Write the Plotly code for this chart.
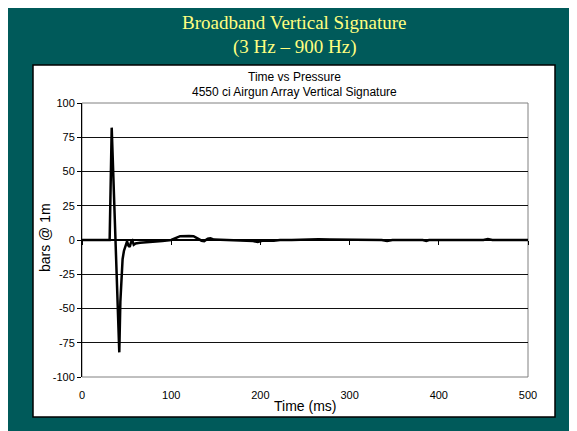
import plotly.graph_objects as go

# ---- data ----
time_ms = [0, 31, 33.3, 35, 36.6, 37.6, 39.5, 41.8, 43, 44.5,
           45.5, 47, 49, 50.5, 52, 53.5, 55, 56.5, 58, 60,
           65, 70, 80, 90, 100, 105, 110, 120, 125, 130,
           134, 137, 141, 144, 148, 155, 166, 172, 185, 192,
           197, 202, 215, 222, 235, 252, 265, 278, 288, 297,
           310, 336, 342, 348, 382, 386, 389, 450, 455, 460,
           480, 500]
pressure_bar = [0, 0, 82, 50, 25, 0, -40, -82, -45, -24,
                -14, -8, -3, -1, -4, -5, -1.5, -0.5, -3.5, -2.5,
                -2, -1.8, -1.5, -0.8, 0, 1.5, 2.8, 3, 2.8, 1,
                -0.5, -0.8, 1, 1.2, 0.3, 0.2, 0, -0.5, -0.6, -0.8,
                -1.5, -0.6, -0.5, 0, 0, 0.5, 0.5, 0.3, 0.3, 0,
                0, 0, -0.7, 0, 0, -0.7, 0, 0, 0.7, 0,
                0, 0]
x_ticks = [0, 100, 200, 300, 400, 500]
y_ticks = [-100, -75, -50, -25, 0, 25, 50, 75, 100]
y_tick_labels = ["-100", "-75", "-50", "-25", "0", "25", "50", "75", "100"]

slide_title = ["Broadband Vertical Signature", "(3 Hz – 900 Hz)"]
chart_title = ["Time vs Pressure", "4550 ci Airgun Array Vertical Signature"]
x_title = "Time (ms)"
y_title = "bars @ 1m"

# ---- layout geometry (screen pixels; page has an 8px body margin) ----
OFF = 8
SW, SH = 577, 431
W, H = SW - OFF, SH - OFF
L, R, T, B = 82, 528, 103, 377
pw, ph = R - L, B - T


def px(x):
    return (x - L) / pw


def py(y):
    return (B - y) / ph


TEAL = "#005A5A"
YELLOW = "#FFFF80"

fig = go.Figure()
fig.add_trace(go.Scatter(x=time_ms, y=pressure_bar, mode="lines",
                         line=dict(color="black", width=2.5),
                         xaxis="x", yaxis="y", showlegend=False,
                         hoverinfo="x+y"))
# helper trace so the zero-crossing axis is drawn
fig.add_trace(go.Scatter(x=[x_ticks[0], x_ticks[-1]], y=[None, None],
                         mode="lines", xaxis="x2", yaxis="y",
                         showlegend=False, hoverinfo="skip"))

fig.update_layout(
    width=W, height=H,
    margin=dict(l=L - OFF, r=SW - R, t=T - OFF, b=SH - B, pad=0),
    paper_bgcolor=TEAL, plot_bgcolor="white",
    font=dict(family="Liberation Sans, Arial, sans-serif", color="black", size=11),
    xaxis=dict(range=[x_ticks[0], x_ticks[-1]], tickvals=x_ticks,
               showgrid=False, zeroline=False, showline=False,
               ticks="", ticklabelstandoff=10,
               tickfont=dict(size=11, color="black")),
    xaxis2=dict(range=[x_ticks[0], x_ticks[-1]], tickvals=x_ticks,
                overlaying="x", anchor="free", position=0.5, side="bottom",
                showgrid=False, zeroline=False, showline=True,
                linecolor="black", linewidth=1.5,
                ticks="outside", ticklen=4, tickcolor="black",
                showticklabels=False),
    yaxis=dict(range=[y_ticks[0], y_ticks[-1]], tickvals=y_ticks,
               ticktext=y_tick_labels,
               showgrid=True, gridcolor="#111111", gridwidth=1,
               zeroline=False, showline=True, linecolor="black", linewidth=1,
               ticks="outside", ticklen=4, tickcolor="black",
               tickfont=dict(size=11, color="black")),
    shapes=[
        dict(type="rect", xref="paper", yref="paper", layer="below",
             x0=px(33), x1=px(555), y0=py(65), y1=py(417),
             fillcolor="white", line=dict(color="black", width=1.5)),
        dict(type="rect", xref="paper", yref="paper", layer="between",
             x0=0, x1=1, y0=0, y1=1,
             line=dict(color="#808080", width=1)),
    ],
    annotations=[
        dict(text=slide_title[0], xref="paper", yref="paper",
             x=px(294), y=py(23), xanchor="center", yanchor="middle",
             showarrow=False,
             font=dict(family="Liberation Serif, Times New Roman, serif", size=19, color=YELLOW)),
        dict(text=slide_title[1], xref="paper", yref="paper",
             x=px(294), y=py(47), xanchor="center", yanchor="middle",
             showarrow=False,
             font=dict(family="Liberation Serif, Times New Roman, serif", size=19, color=YELLOW)),
        dict(text=chart_title[0], xref="paper", yref="paper",
             x=px(294), y=py(77), xanchor="center", yanchor="middle",
             showarrow=False, font=dict(size=12, color="black")),
        dict(text=chart_title[1], xref="paper", yref="paper",
             x=px(294), y=py(92), xanchor="center", yanchor="middle",
             showarrow=False, font=dict(size=12, color="black")),
        dict(text=x_title, xref="paper", yref="paper",
             x=px(305), y=py(406), xanchor="center", yanchor="middle",
             showarrow=False, font=dict(size=14, color="black")),
        dict(text=y_title, xref="paper", yref="paper", textangle=-90,
             x=px(45), y=py(238), xanchor="center", yanchor="middle",
             showarrow=False, font=dict(size=14, color="black")),
    ],
)

fig.write_html("out.html")
